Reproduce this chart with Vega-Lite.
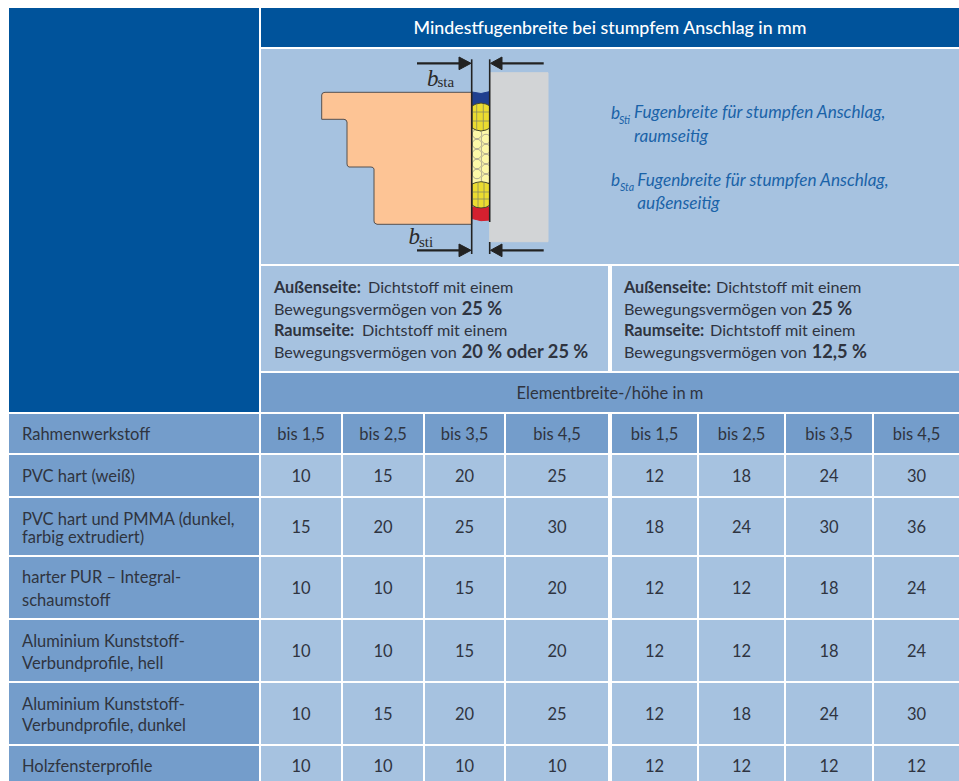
{
"$schema":"https://vega.github.io/schema/vega-lite/v6.json",
"width":959,"height":781,"padding":0,"autosize":{"type":"none"},"background":"white",
"config":{"view":{"stroke":null}},
"datasets":{
"cells":[
{"role":"dark","c0":0,"c1":1,"r0":0,"r1":7},
{"role":"dark","c0":2,"c1":17,"r0":0,"r1":1,"xm":9.5,"ym":0.53,"label":"Mindestfugenbreite bei stumpfem Anschlag in mm"},
{"role":"light","c0":2,"c1":17,"r0":2,"r1":3},
{"role":"light","c0":2,"c1":9,"r0":4,"r1":5},
{"role":"light","c0":10,"c1":17,"r0":4,"r1":5},
{"role":"mid","c0":2,"c1":17,"r0":6,"r1":7,"xm":9.5,"ym":6.5,"label":"Elementbreite-/höhe in m"},
{"role":"mid","c0":0,"c1":1,"r0":8,"r1":9},
{"role":"mid","c0":0,"c1":1,"r0":10,"r1":11},
{"role":"mid","c0":0,"c1":1,"r0":12,"r1":13},
{"role":"mid","c0":0,"c1":1,"r0":14,"r1":15},
{"role":"mid","c0":0,"c1":1,"r0":16,"r1":17},
{"role":"mid","c0":0,"c1":1,"r0":18,"r1":19},
{"role":"mid","c0":0,"c1":1,"r0":20,"r1":21},
{"role":"mid","c0":2,"c1":3,"r0":8,"r1":9,"xm":2.5,"ym":8.5,"label":"bis 1,5"},
{"role":"mid","c0":4,"c1":5,"r0":8,"r1":9,"xm":4.5,"ym":8.5,"label":"bis 2,5"},
{"role":"mid","c0":6,"c1":7,"r0":8,"r1":9,"xm":6.5,"ym":8.5,"label":"bis 3,5"},
{"role":"mid","c0":8,"c1":9,"r0":8,"r1":9,"xm":8.5,"ym":8.5,"label":"bis 4,5"},
{"role":"mid","c0":10,"c1":11,"r0":8,"r1":9,"xm":10.5,"ym":8.5,"label":"bis 1,5"},
{"role":"mid","c0":12,"c1":13,"r0":8,"r1":9,"xm":12.5,"ym":8.5,"label":"bis 2,5"},
{"role":"mid","c0":14,"c1":15,"r0":8,"r1":9,"xm":14.5,"ym":8.5,"label":"bis 3,5"},
{"role":"mid","c0":16,"c1":17,"r0":8,"r1":9,"xm":16.5,"ym":8.5,"label":"bis 4,5"},
{"role":"light","c0":2,"c1":3,"r0":10,"r1":11,"xm":2.5,"ym":10.5,"label":"10"},
{"role":"light","c0":4,"c1":5,"r0":10,"r1":11,"xm":4.5,"ym":10.5,"label":"15"},
{"role":"light","c0":6,"c1":7,"r0":10,"r1":11,"xm":6.5,"ym":10.5,"label":"20"},
{"role":"light","c0":8,"c1":9,"r0":10,"r1":11,"xm":8.5,"ym":10.5,"label":"25"},
{"role":"light","c0":10,"c1":11,"r0":10,"r1":11,"xm":10.5,"ym":10.5,"label":"12"},
{"role":"light","c0":12,"c1":13,"r0":10,"r1":11,"xm":12.5,"ym":10.5,"label":"18"},
{"role":"light","c0":14,"c1":15,"r0":10,"r1":11,"xm":14.5,"ym":10.5,"label":"24"},
{"role":"light","c0":16,"c1":17,"r0":10,"r1":11,"xm":16.5,"ym":10.5,"label":"30"},
{"role":"light","c0":2,"c1":3,"r0":12,"r1":13,"xm":2.5,"ym":12.5,"label":"15"},
{"role":"light","c0":4,"c1":5,"r0":12,"r1":13,"xm":4.5,"ym":12.5,"label":"20"},
{"role":"light","c0":6,"c1":7,"r0":12,"r1":13,"xm":6.5,"ym":12.5,"label":"25"},
{"role":"light","c0":8,"c1":9,"r0":12,"r1":13,"xm":8.5,"ym":12.5,"label":"30"},
{"role":"light","c0":10,"c1":11,"r0":12,"r1":13,"xm":10.5,"ym":12.5,"label":"18"},
{"role":"light","c0":12,"c1":13,"r0":12,"r1":13,"xm":12.5,"ym":12.5,"label":"24"},
{"role":"light","c0":14,"c1":15,"r0":12,"r1":13,"xm":14.5,"ym":12.5,"label":"30"},
{"role":"light","c0":16,"c1":17,"r0":12,"r1":13,"xm":16.5,"ym":12.5,"label":"36"},
{"role":"light","c0":2,"c1":3,"r0":14,"r1":15,"xm":2.5,"ym":14.5,"label":"10"},
{"role":"light","c0":4,"c1":5,"r0":14,"r1":15,"xm":4.5,"ym":14.5,"label":"10"},
{"role":"light","c0":6,"c1":7,"r0":14,"r1":15,"xm":6.5,"ym":14.5,"label":"15"},
{"role":"light","c0":8,"c1":9,"r0":14,"r1":15,"xm":8.5,"ym":14.5,"label":"20"},
{"role":"light","c0":10,"c1":11,"r0":14,"r1":15,"xm":10.5,"ym":14.5,"label":"12"},
{"role":"light","c0":12,"c1":13,"r0":14,"r1":15,"xm":12.5,"ym":14.5,"label":"12"},
{"role":"light","c0":14,"c1":15,"r0":14,"r1":15,"xm":14.5,"ym":14.5,"label":"18"},
{"role":"light","c0":16,"c1":17,"r0":14,"r1":15,"xm":16.5,"ym":14.5,"label":"24"},
{"role":"light","c0":2,"c1":3,"r0":16,"r1":17,"xm":2.5,"ym":16.5,"label":"10"},
{"role":"light","c0":4,"c1":5,"r0":16,"r1":17,"xm":4.5,"ym":16.5,"label":"10"},
{"role":"light","c0":6,"c1":7,"r0":16,"r1":17,"xm":6.5,"ym":16.5,"label":"15"},
{"role":"light","c0":8,"c1":9,"r0":16,"r1":17,"xm":8.5,"ym":16.5,"label":"20"},
{"role":"light","c0":10,"c1":11,"r0":16,"r1":17,"xm":10.5,"ym":16.5,"label":"12"},
{"role":"light","c0":12,"c1":13,"r0":16,"r1":17,"xm":12.5,"ym":16.5,"label":"12"},
{"role":"light","c0":14,"c1":15,"r0":16,"r1":17,"xm":14.5,"ym":16.5,"label":"18"},
{"role":"light","c0":16,"c1":17,"r0":16,"r1":17,"xm":16.5,"ym":16.5,"label":"24"},
{"role":"light","c0":2,"c1":3,"r0":18,"r1":19,"xm":2.5,"ym":18.5,"label":"10"},
{"role":"light","c0":4,"c1":5,"r0":18,"r1":19,"xm":4.5,"ym":18.5,"label":"15"},
{"role":"light","c0":6,"c1":7,"r0":18,"r1":19,"xm":6.5,"ym":18.5,"label":"20"},
{"role":"light","c0":8,"c1":9,"r0":18,"r1":19,"xm":8.5,"ym":18.5,"label":"25"},
{"role":"light","c0":10,"c1":11,"r0":18,"r1":19,"xm":10.5,"ym":18.5,"label":"12"},
{"role":"light","c0":12,"c1":13,"r0":18,"r1":19,"xm":12.5,"ym":18.5,"label":"18"},
{"role":"light","c0":14,"c1":15,"r0":18,"r1":19,"xm":14.5,"ym":18.5,"label":"24"},
{"role":"light","c0":16,"c1":17,"r0":18,"r1":19,"xm":16.5,"ym":18.5,"label":"30"},
{"role":"light","c0":2,"c1":3,"r0":20,"r1":21,"xm":2.5,"ym":20.55,"label":"10"},
{"role":"light","c0":4,"c1":5,"r0":20,"r1":21,"xm":4.5,"ym":20.55,"label":"10"},
{"role":"light","c0":6,"c1":7,"r0":20,"r1":21,"xm":6.5,"ym":20.55,"label":"10"},
{"role":"light","c0":8,"c1":9,"r0":20,"r1":21,"xm":8.5,"ym":20.55,"label":"10"},
{"role":"light","c0":10,"c1":11,"r0":20,"r1":21,"xm":10.5,"ym":20.55,"label":"12"},
{"role":"light","c0":12,"c1":13,"r0":20,"r1":21,"xm":12.5,"ym":20.55,"label":"12"},
{"role":"light","c0":14,"c1":15,"r0":20,"r1":21,"xm":14.5,"ym":20.55,"label":"12"},
{"role":"light","c0":16,"c1":17,"r0":20,"r1":21,"xm":16.5,"ym":20.55,"label":"12"}
],
"paraText":[
{"x":368,"y":292.7,"t":"Dichtstoff mit einem"},
{"x":274,"y":315,"t":"Bewegungsvermögen von"},
{"x":362,"y":336,"t":"Dichtstoff mit einem"},
{"x":274,"y":357.7,"t":"Bewegungsvermögen von"},
{"x":716,"y":292.7,"t":"Dichtstoff mit einem"},
{"x":624,"y":315,"t":"Bewegungsvermögen von"},
{"x":710,"y":336,"t":"Dichtstoff mit einem"},
{"x":624,"y":357.7,"t":"Bewegungsvermögen von"}
],
"normalText":[
{"x":22,"y":440,"t":"Rahmenwerkstoff"},
{"x":22,"y":481.7,"t":"PVC hart (weiß)"},
{"x":22,"y":525,"t":"PVC hart und PMMA (dunkel,"},
{"x":22,"y":543.3,"t":"farbig extrudiert)"},
{"x":22,"y":583.3,"t":"harter PUR – Integral-"},
{"x":22,"y":606,"t":"schaumstoff"},
{"x":22,"y":646.7,"t":"Aluminium Kunststoff-"},
{"x":22,"y":668.5,"t":"Verbundprofile, hell"},
{"x":22,"y":710,"t":"Aluminium Kunststoff-"},
{"x":22,"y":730.7,"t":"Verbundprofile, dunkel"},
{"x":22,"y":771.7,"t":"Holzfensterprofile"}
],
"boldText":[
{"x":274,"y":292.7,"t":"Außenseite:"},
{"x":274,"y":336,"t":"Raumseite:"},
{"x":624,"y":292.7,"t":"Außenseite:"},
{"x":624,"y":336,"t":"Raumseite:"}
],
"boldValues":[
{"x":461.7,"y":315,"t":"25 %"},
{"x":461.7,"y":357.7,"t":"20 % oder 25 %"},
{"x":811.7,"y":315,"t":"25 %"},
{"x":811.7,"y":357.7,"t":"12,5 %"}
],
"legendText":[
{"x":634,"y":118,"t":"Fugenbreite für stumpfen Anschlag,"},
{"x":634,"y":141.7,"t":"raumseitig"},
{"x":637.3,"y":186,"t":"Fugenbreite für stumpfen Anschlag,"},
{"x":637.3,"y":209,"t":"außenseitig"},
{"x":611,"y":118.5,"t":"b"},
{"x":611,"y":185.7,"t":"b"}
],
"legendSub":[
{"x":619,"y":124,"t":"Sti"},
{"x":620,"y":191,"t":"Sta"}
],
"serifB":[
{"x":427,"y":85.7,"t":"b"},
{"x":408.5,"y":244,"t":"b"}
],
"serifSub":[
{"x":437.5,"y":87,"t":"sta"},
{"x":419,"y":246.7,"t":"sti"}
],
"cream":[
{"s":"cream","o":1,"x":472,"y":128},{"s":"cream","o":2,"x":490,"y":128},{"s":"cream","o":3,"x":490,"y":184},{"s":"cream","o":4,"x":472,"y":184}
],
"foam":[
{"x":477,"y":134},{"x":477,"y":144},{"x":477,"y":154},{"x":477,"y":164},{"x":477,"y":174},
{"x":486,"y":139},{"x":486,"y":149},{"x":486,"y":159},{"x":486,"y":169},{"x":486,"y":179}
],
"shapes":[
{"s":"blue","o":1,"x":472,"y":92},{"s":"blue","o":2,"x":481,"y":93.5},{"s":"blue","o":3,"x":490,"y":91.5},{"s":"blue","o":4,"x":490,"y":108},{"s":"blue","o":5,"x":472,"y":108},{"s":"blue","o":6,"x":472,"y":92},
{"s":"red","o":1,"x":472,"y":207},{"s":"red","o":2,"x":490,"y":207},{"s":"red","o":3,"x":490,"y":220},{"s":"red","o":4,"x":481,"y":220.7},{"s":"red","o":5,"x":472,"y":218.5},{"s":"red","o":6,"x":472,"y":207},
{"s":"yellowA","o":1,"x":472,"y":106},{"s":"yellowA","o":2,"x":476,"y":104},{"s":"yellowA","o":3,"x":481,"y":103},{"s":"yellowA","o":4,"x":486,"y":104},{"s":"yellowA","o":5,"x":490,"y":106},{"s":"yellowA","o":6,"x":490,"y":128},{"s":"yellowA","o":7,"x":486,"y":130},{"s":"yellowA","o":8,"x":481,"y":131},{"s":"yellowA","o":9,"x":476,"y":130},{"s":"yellowA","o":10,"x":472,"y":128},{"s":"yellowA","o":11,"x":472,"y":106},
{"s":"yellowB","o":1,"x":472,"y":184},{"s":"yellowB","o":2,"x":476,"y":182.5},{"s":"yellowB","o":3,"x":481,"y":181.7},{"s":"yellowB","o":4,"x":486,"y":182.5},{"s":"yellowB","o":5,"x":490,"y":184},{"s":"yellowB","o":6,"x":490,"y":205},{"s":"yellowB","o":7,"x":486,"y":207.3},{"s":"yellowB","o":8,"x":481,"y":208},{"s":"yellowB","o":9,"x":476,"y":207.3},{"s":"yellowB","o":10,"x":472,"y":205},{"s":"yellowB","o":11,"x":472,"y":184},
{"s":"gray","o":1,"x":489.7,"y":72.7},{"s":"gray","o":2,"x":548,"y":72.7},{"s":"gray","o":3,"x":548,"y":241.7},{"s":"gray","o":4,"x":489.7,"y":241.7},{"s":"gray","o":5,"x":489.7,"y":72.7},
{"s":"frame","o":1,"x":325,"y":92.3},{"s":"frame","o":2,"x":471.7,"y":92.3},{"s":"frame","o":3,"x":471.7,"y":224.3},{"s":"frame","o":4,"x":377,"y":224.3},{"s":"frame","o":5,"x":374.5,"y":223},{"s":"frame","o":6,"x":374,"y":221},{"s":"frame","o":7,"x":374,"y":169},{"s":"frame","o":8,"x":373,"y":167.5},{"s":"frame","o":9,"x":371,"y":167},{"s":"frame","o":10,"x":349,"y":167},{"s":"frame","o":11,"x":347.5,"y":166},{"s":"frame","o":12,"x":347,"y":164},{"s":"frame","o":13,"x":347,"y":122},{"s":"frame","o":14,"x":346,"y":120},{"s":"frame","o":15,"x":344,"y":119.3},{"s":"frame","o":16,"x":321.7,"y":119.3},{"s":"frame","o":17,"x":321.7,"y":95},{"s":"frame","o":18,"x":322.5,"y":93},{"s":"frame","o":19,"x":325,"y":92.3},
{"s":"tipA","o":1,"x":459,"y":57},{"s":"tipA","o":2,"x":471,"y":63.3},{"s":"tipA","o":3,"x":459,"y":69.7},{"s":"tipA","o":4,"x":459,"y":57},
{"s":"tipB","o":1,"x":490.5,"y":63.3},{"s":"tipB","o":2,"x":502,"y":57},{"s":"tipB","o":3,"x":502,"y":69.7},{"s":"tipB","o":4,"x":490.5,"y":63.3},
{"s":"tipC","o":1,"x":459,"y":244},{"s":"tipC","o":2,"x":471,"y":250.3},{"s":"tipC","o":3,"x":459,"y":256.7},{"s":"tipC","o":4,"x":459,"y":244},
{"s":"tipD","o":1,"x":490.5,"y":250.3},{"s":"tipD","o":2,"x":502,"y":244},{"s":"tipD","o":3,"x":502,"y":256.7},{"s":"tipD","o":4,"x":490.5,"y":250.3}
],
"hatch":[
{"s":"a","o":1,"x":476.7,"y":104},{"s":"a","o":2,"x":476.7,"y":130},
{"s":"b","o":1,"x":483.3,"y":104},{"s":"b","o":2,"x":483.3,"y":130},
{"s":"c","o":1,"x":472,"y":112},{"s":"c","o":2,"x":490,"y":112},
{"s":"d","o":1,"x":472,"y":121},{"s":"d","o":2,"x":490,"y":121},
{"s":"e","o":1,"x":478,"y":182.5},{"s":"e","o":2,"x":478,"y":207},
{"s":"f","o":1,"x":484,"y":182.5},{"s":"f","o":2,"x":484,"y":207},
{"s":"g","o":1,"x":472,"y":192},{"s":"g","o":2,"x":490,"y":192},
{"s":"h","o":1,"x":472,"y":199},{"s":"h","o":2,"x":490,"y":199}
],
"thin":[
{"s":"l","o":1,"x":471.7,"y":59.3},{"s":"l","o":2,"x":471.7,"y":254},
{"s":"r1","o":1,"x":489.7,"y":59.3},{"s":"r1","o":2,"x":489.7,"y":222},
{"s":"r2","o":1,"x":489.7,"y":242},{"s":"r2","o":2,"x":489.7,"y":254}
],
"shafts":[
{"s":"a","o":1,"x":417,"y":63.3},{"s":"a","o":2,"x":460,"y":63.3},
{"s":"b","o":1,"x":501,"y":63.3},{"s":"b","o":2,"x":543.7,"y":63.3},
{"s":"c","o":1,"x":417,"y":250.3},{"s":"c","o":2,"x":460,"y":250.3},
{"s":"d","o":1,"x":501,"y":250.3},{"s":"d","o":2,"x":543.7,"y":250.3}
]
},
"resolve":{"scale":{"x":"independent","y":"independent","fill":"independent","stroke":"independent","color":"independent"}},
"layer":[
{"data":{"name":"cells"},"mark":{"type":"rect"},
"encoding":{
"x":{"field":"c0","type":"quantitative","axis":null,"scale":{"domain":[0,1,2,3,4,5,6,7,8,9,10,11,12,13,14,15,16,17],"range":[9,259,261,341,343,423,425,504,506,608,612,697,699,784,786,872,874,959],"nice":false,"zero":false}},
"x2":{"field":"c1"},
"y":{"field":"r0","type":"quantitative","axis":null,"scale":{"domain":[0,1,2,3,4,5,6,7,8,9,10,11,12,13,14,15,16,17,18,19,20,21],"range":[8,47,49,264,266,371,373,412,414,453,455,496,498,555,557,618,620,681,683,744,746,781],"nice":false,"zero":false}},
"y2":{"field":"r1"},
"color":{"field":"role","type":"nominal","legend":null,"scale":{"domain":["dark","mid","light"],"range":["#00539b","#749dcb","#a6c2e0"]}}
}},
{"data":{"name":"cells"},"transform":[{"filter":"datum.label && datum.role !== 'dark'"}],
"mark":{"type":"text","font":"Lato","fontSize":16.5,"baseline":"middle","align":"center","fill":"#2f3440","dy":1.5},
"encoding":{
"x":{"field":"xm","type":"quantitative","axis":null,"scale":{"domain":[0,1,2,3,4,5,6,7,8,9,10,11,12,13,14,15,16,17],"range":[9,259,261,341,343,423,425,504,506,608,612,697,699,784,786,872,874,959],"nice":false,"zero":false}},
"y":{"field":"ym","type":"quantitative","axis":null,"scale":{"domain":[0,1,2,3,4,5,6,7,8,9,10,11,12,13,14,15,16,17,18,19,20,21],"range":[8,47,49,264,266,371,373,412,414,453,455,496,498,555,557,618,620,681,683,744,746,781],"nice":false,"zero":false}},
"text":{"field":"label"}
}},
{"data":{"name":"cells"},"transform":[{"filter":"datum.label && datum.role === 'dark'"}],
"mark":{"type":"text","font":"Lato","fontSize":17.8,"fontWeight":500,"baseline":"middle","align":"center","fill":"white"},
"encoding":{
"x":{"field":"xm","type":"quantitative","axis":null,"scale":{"domain":[0,1,2,3,4,5,6,7,8,9,10,11,12,13,14,15,16,17],"range":[9,259,261,341,343,423,425,504,506,608,612,697,699,784,786,872,874,959],"nice":false,"zero":false}},
"y":{"field":"ym","type":"quantitative","axis":null,"scale":{"domain":[0,1,2,3,4,5,6,7,8,9,10,11,12,13,14,15,16,17,18,19,20,21],"range":[8,47,49,264,266,371,373,412,414,453,455,496,498,555,557,618,620,681,683,744,746,781],"nice":false,"zero":false}},
"text":{"field":"label"}
}},
{"data":{"name":"normalText"},"mark":{"type":"text","font":"Lato","fontSize":16.5,"baseline":"alphabetic","align":"left","fill":"#2f3440"},
"encoding":{"x":{"field":"x","type":"quantitative","axis":null,"scale":{"domain":[0,959],"range":[0,959],"nice":false,"zero":false}},"y":{"field":"y","type":"quantitative","axis":null,"scale":{"domain":[0,781],"range":[0,781],"nice":false,"zero":false}},"text":{"field":"t"}}},
{"data":{"name":"paraText"},"mark":{"type":"text","font":"Lato","fontSize":16.2,"baseline":"alphabetic","align":"left","fill":"#2f3440"},
"encoding":{"x":{"field":"x","type":"quantitative","axis":null,"scale":{"domain":[0,959],"range":[0,959],"nice":false,"zero":false}},"y":{"field":"y","type":"quantitative","axis":null,"scale":{"domain":[0,781],"range":[0,781],"nice":false,"zero":false}},"text":{"field":"t"}}},
{"data":{"name":"boldText"},"mark":{"type":"text","font":"Lato","fontSize":16.3,"fontWeight":700,"baseline":"alphabetic","align":"left","fill":"#2f3440"},
"encoding":{"x":{"field":"x","type":"quantitative","axis":null,"scale":{"domain":[0,959],"range":[0,959],"nice":false,"zero":false}},"y":{"field":"y","type":"quantitative","axis":null,"scale":{"domain":[0,781],"range":[0,781],"nice":false,"zero":false}},"text":{"field":"t"}}},
{"data":{"name":"boldValues"},"mark":{"type":"text","font":"Lato","fontSize":18.2,"fontWeight":700,"baseline":"alphabetic","align":"left","fill":"#2f3440"},
"encoding":{"x":{"field":"x","type":"quantitative","axis":null,"scale":{"domain":[0,959],"range":[0,959],"nice":false,"zero":false}},"y":{"field":"y","type":"quantitative","axis":null,"scale":{"domain":[0,781],"range":[0,781],"nice":false,"zero":false}},"text":{"field":"t"}}},
{"data":{"name":"legendText"},"mark":{"type":"text","font":"Lato","fontSize":17.2,"fontStyle":"italic","baseline":"alphabetic","align":"left","fill":"#1a63a8"},
"encoding":{"x":{"field":"x","type":"quantitative","axis":null,"scale":{"domain":[0,959],"range":[0,959],"nice":false,"zero":false}},"y":{"field":"y","type":"quantitative","axis":null,"scale":{"domain":[0,781],"range":[0,781],"nice":false,"zero":false}},"text":{"field":"t"}}},
{"data":{"name":"legendSub"},"mark":{"type":"text","font":"Lato","fontSize":10.5,"fontStyle":"italic","baseline":"alphabetic","align":"left","fill":"#1a63a8"},
"encoding":{"x":{"field":"x","type":"quantitative","axis":null,"scale":{"domain":[0,959],"range":[0,959],"nice":false,"zero":false}},"y":{"field":"y","type":"quantitative","axis":null,"scale":{"domain":[0,781],"range":[0,781],"nice":false,"zero":false}},"text":{"field":"t"}}},
{"data":{"name":"cream"},"mark":{"type":"line","fill":"#fdf8a8","stroke":null,"interpolate":"linear"},
"encoding":{"x":{"field":"x","type":"quantitative","axis":null,"scale":{"domain":[0,959],"range":[0,959],"nice":false,"zero":false}},"y":{"field":"y","type":"quantitative","axis":null,"scale":{"domain":[0,781],"range":[0,781],"nice":false,"zero":false}},"order":{"field":"o"},"detail":{"field":"s"}}},
{"data":{"name":"foam"},"mark":{"type":"point","shape":"circle","size":90,"filled":false,"stroke":"#a7a28c","strokeWidth":0.9,"opacity":1},
"encoding":{"x":{"field":"x","type":"quantitative","axis":null,"scale":{"domain":[0,959],"range":[0,959],"nice":false,"zero":false}},"y":{"field":"y","type":"quantitative","axis":null,"scale":{"domain":[0,781],"range":[0,781],"nice":false,"zero":false}}}},
{"data":{"name":"shapes"},"mark":{"type":"line","strokeWidth":1},
"encoding":{"x":{"field":"x","type":"quantitative","axis":null,"scale":{"domain":[0,959],"range":[0,959],"nice":false,"zero":false}},"y":{"field":"y","type":"quantitative","axis":null,"scale":{"domain":[0,781],"range":[0,781],"nice":false,"zero":false}},"order":{"field":"o"},"detail":{"field":"s"},
"fill":{"field":"s","type":"nominal","legend":null,"scale":{"domain":["blue","red","yellowA","yellowB","gray","frame","tipA","tipB","tipC","tipD"],"range":["#1f3f8f","#d4202f","#ebdc30","#ebdc30","#d2d4d6","#fdc495","#222222","#222222","#222222","#222222"]}},
"stroke":{"field":"s","type":"nominal","legend":null,"scale":{"domain":["blue","red","yellowA","yellowB","gray","frame","tipA","tipB","tipC","tipD"],"range":["#1f3f8f","#d4202f","#4a4a2a","#4a4a2a","#d2d4d6","#55504f","#222222","#222222","#222222","#222222"]}}}},
{"data":{"name":"hatch"},"mark":{"type":"line","stroke":"#8a8a60","strokeWidth":0.8},
"encoding":{"x":{"field":"x","type":"quantitative","axis":null,"scale":{"domain":[0,959],"range":[0,959],"nice":false,"zero":false}},"y":{"field":"y","type":"quantitative","axis":null,"scale":{"domain":[0,781],"range":[0,781],"nice":false,"zero":false}},"order":{"field":"o"},"detail":{"field":"s"}}},
{"data":{"name":"thin"},"mark":{"type":"line","stroke":"#222222","strokeWidth":1.6},
"encoding":{"x":{"field":"x","type":"quantitative","axis":null,"scale":{"domain":[0,959],"range":[0,959],"nice":false,"zero":false}},"y":{"field":"y","type":"quantitative","axis":null,"scale":{"domain":[0,781],"range":[0,781],"nice":false,"zero":false}},"order":{"field":"o"},"detail":{"field":"s"}}},
{"data":{"name":"shafts"},"mark":{"type":"line","stroke":"#222222","strokeWidth":2.3},
"encoding":{"x":{"field":"x","type":"quantitative","axis":null,"scale":{"domain":[0,959],"range":[0,959],"nice":false,"zero":false}},"y":{"field":"y","type":"quantitative","axis":null,"scale":{"domain":[0,781],"range":[0,781],"nice":false,"zero":false}},"order":{"field":"o"},"detail":{"field":"s"}}},
{"data":{"name":"serifB"},"mark":{"type":"text","font":"Liberation Serif","fontSize":23,"fontStyle":"italic","baseline":"alphabetic","align":"left","fill":"#2a2a2a"},
"encoding":{"x":{"field":"x","type":"quantitative","axis":null,"scale":{"domain":[0,959],"range":[0,959],"nice":false,"zero":false}},"y":{"field":"y","type":"quantitative","axis":null,"scale":{"domain":[0,781],"range":[0,781],"nice":false,"zero":false}},"text":{"field":"t"}}},
{"data":{"name":"serifSub"},"mark":{"type":"text","font":"Liberation Serif","fontSize":15,"baseline":"alphabetic","align":"left","fill":"#2a2a2a"},
"encoding":{"x":{"field":"x","type":"quantitative","axis":null,"scale":{"domain":[0,959],"range":[0,959],"nice":false,"zero":false}},"y":{"field":"y","type":"quantitative","axis":null,"scale":{"domain":[0,781],"range":[0,781],"nice":false,"zero":false}},"text":{"field":"t"}}}
]
}
